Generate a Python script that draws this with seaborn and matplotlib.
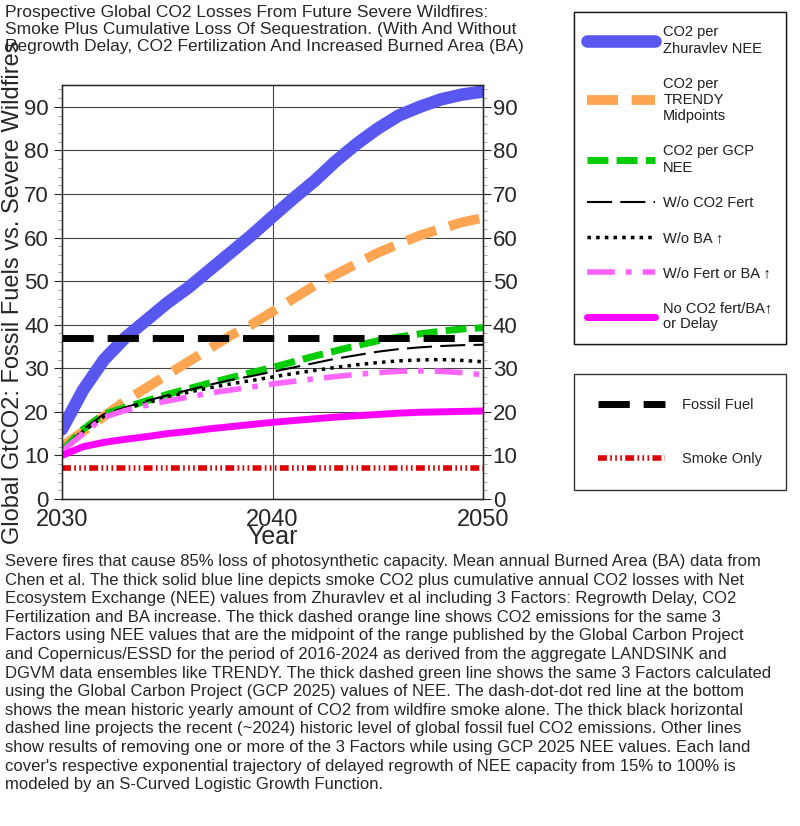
import matplotlib
matplotlib.use("Agg")
import matplotlib.pyplot as plt
import numpy as np
import pandas as pd
import seaborn as sns
from matplotlib.ticker import MultipleLocator

years = list(range(2030, 2051))
zhuravlev = [16, 25, 32, 37, 41, 45, 48.5, 52.5, 56.5, 60.5, 64.8, 69, 73, 77.5, 81.5, 85, 88, 90, 91.7, 92.8, 93.5]
trendy = [12, 15.5, 19, 22.5, 25.5, 28.5, 31.5, 34.5, 37.5, 40, 43, 46, 49, 51.5, 54, 56.5, 58.5, 60.5, 62, 63.5, 64.5]
gcp = [11, 16, 19.5, 21, 22.5, 24, 25.3, 26.6, 27.8, 29, 30.2, 31.5, 32.8, 34, 35.2, 36.3, 37.2, 37.9, 38.5, 39, 39.3]
no_fert = [11, 16, 19.5, 21, 22.5, 23.8, 25, 26.2, 27.3, 28.2, 29.2, 30.2, 31.2, 32.2, 33, 33.8, 34.4, 34.8, 35.1, 35.3, 35.4]
no_ba = [11, 15.5, 19, 20.8, 22, 23.3, 24.5, 25.5, 26.4, 27.2, 28, 28.8, 29.5, 30.2, 30.8, 31.3, 31.7, 31.9, 32, 31.8, 31.5]
no_fert_ba = [11, 15, 18.8, 20.3, 21.5, 22.5, 23.4, 24.3, 25, 25.7, 26.4, 27, 27.6, 28.1, 28.6, 29, 29.3, 29.4, 29.3, 29, 28.5]
no_all = [10, 12, 13, 13.7, 14.3, 15, 15.5, 16.1, 16.6, 17.1, 17.6, 18, 18.4, 18.8, 19.1, 19.4, 19.7, 19.9, 20, 20.1, 20.2]
fossil_fuel = 37
smoke_only = 7

TITLE = ("Prospective Global CO2 Losses From Future Severe Wildfires:\n"
         "Smoke Plus Cumulative Loss Of Sequestration. (With And Without\n"
         "Regrowth Delay, CO2 Fertilization And Increased Burned Area (BA)")
CAPTION = (
    "Severe fires that cause 85% loss of photosynthetic capacity. Mean annual Burned Area (BA) data from\n"
    "Chen et al. The thick solid blue line depicts smoke CO2 plus cumulative annual CO2 losses with Net\n"
    "Ecosystem Exchange (NEE) values from Zhuravlev et al including 3 Factors: Regrowth Delay, CO2\n"
    "Fertilization and BA increase. The thick dashed orange line shows CO2 emissions for the same 3\n"
    "Factors using NEE values that are the midpoint of the range published by the Global Carbon Project\n"
    "and Copernicus/ESSD for the period of 2016-2024 as derived from the aggregate LANDSINK and\n"
    "DGVM data ensembles like TRENDY. The thick dashed green line shows the same 3 Factors calculated\n"
    "using the Global Carbon Project (GCP 2025) values of NEE. The dash-dot-dot red line at the bottom\n"
    "shows the mean historic yearly amount of CO2 from wildfire smoke alone. The thick black horizontal\n"
    "dashed line projects the recent (~2024) historic level of global fossil fuel CO2 emissions. Other lines\n"
    "show results of removing one or more of the 3 Factors while using GCP 2025 NEE values. Each land\n"
    "cover's respective exponential trajectory of delayed regrowth of NEE capacity from 15% to 100% is\n"
    "modeled by an S-Curved Logistic Growth Function."
)

sns.set_style("white")
plt.rcParams["font.family"] = ["Liberation Sans", "DejaVu Sans"]

fig = plt.figure(figsize=(8, 8.26), dpi=100)
ax = fig.add_axes([62 / 800, 1 - 499 / 826, 421 / 800, 414 / 826])

n = len(years)
series = [
    (zhuravlev, "CO2 per\nZhuravlev NEE", "#5858f0", 9, "-"),
    (trendy, "CO2 per\nTRENDY\nMidpoints", "#fda553", 7, (0, (3.2, 1.4))),
    (gcp, "CO2 per GCP\nNEE", "#00cc00", 5, (0, (3, 1.2))),
    (no_fert, "W/o CO2 Fert", "black", 1.5, (0, (12, 4))),
    (no_ba, "W/o BA \u2191", "black", 2.5, (0, (1, 1.5))),
    (no_fert_ba, "W/o Fert or BA \u2191", "#ff66ff", 4, (0, (5, 2, 1, 2))),
    (no_all, "No CO2 fert/BA\u2191\nor Delay", "#ff00ff", 5, "-"),
]
handles1 = []
for vals, label, color, lw, ls in series:
    sns.lineplot(x=years, y=vals, ax=ax, color=color, lw=lw, linestyle=ls, legend=False,
                 solid_capstyle="round" if ls == "-" else "butt")
    handles1.append(ax.lines[-1])
    handles1[-1].set_label(label)

sns.lineplot(x=years, y=[fossil_fuel] * n, ax=ax, color="black", lw=5, legend=False,
             linestyle=(0, (4.5, 2)))
h_ff = ax.lines[-1]
h_ff.set_label("Fossil Fuel")
sns.lineplot(x=years, y=[smoke_only] * n, ax=ax, color="#dd0000", lw=4, legend=False,
             linestyle=(0, (1.6, 0.6, 0.3, 0.6, 0.3, 0.6, 0.3, 0.6)))
h_sm = ax.lines[-1]
h_sm.set_label("Smoke Only")
if ax.get_legend() is not None:
    ax.get_legend().remove()

ax.set_xlim(2030, 2050)
ax.set_ylim(0, 95)
ax.set_xticks([2030, 2040, 2050])
ax.yaxis.set_major_locator(MultipleLocator(10))
ax.yaxis.set_minor_locator(MultipleLocator(2))
ax.grid(axis="y", which="major", color="#444444", lw=0.8)
ax.axvline(2040, color="#444444", lw=0.8, zorder=0)
ax.tick_params(axis="x", labelsize=17, direction="out", length=5, pad=2)
ax.tick_params(axis="y", which="major", labelsize=16, direction="out", length=6, left=True)
ax.tick_params(axis="y", which="minor", direction="out", length=3, left=True, color="#999999")
for sp in ax.spines.values():
    sp.set_color("black")
    sp.set_linewidth(1)
ax.set_xlabel("Year", fontsize=18, labelpad=-4)
ax.set_ylabel("Global GtCO2: Fossil Fuels vs. Severe Wildfires", fontsize=17, labelpad=0)

ax2 = ax.twinx()
ax2.set_ylim(0, 95)
ax2.yaxis.set_major_locator(MultipleLocator(10))
ax2.yaxis.set_minor_locator(MultipleLocator(2))
ax2.tick_params(axis="y", which="major", labelsize=16, direction="out", length=6, right=True, pad=1)
ax2.tick_params(axis="y", which="minor", direction="out", length=3, right=True, color="#999999")

fig.text(5 / 800, 1 - 5 / 826, TITLE, fontsize=12.5, va="top", ha="left", linespacing=1.15)
fig.text(5 / 800, 1 - 554 / 826, CAPTION, fontsize=12, va="top", ha="left", linespacing=1.3)

leg1 = fig.legend(handles=handles1, loc="upper left", bbox_to_anchor=(567 / 800, 1 - 5 / 826),
                  fontsize=10.5, handlelength=4.6, handletextpad=0.6, labelspacing=1.45,
                  frameon=True, fancybox=False, edgecolor="black", borderpad=0.9)
leg1.get_frame().set_linewidth(1)
leg2 = fig.legend(handles=[h_ff, h_sm], loc="upper left", bbox_to_anchor=(567 / 800, 1 - 367 / 826),
                  fontsize=10.5, handlelength=4.6, handletextpad=1.2, labelspacing=2.8,
                  frameon=True, fancybox=False, edgecolor="black", borderpad=1.6)
leg2.get_frame().set_linewidth(1)
fig.add_artist(leg1)

fig.savefig("out.png", dpi=100)
